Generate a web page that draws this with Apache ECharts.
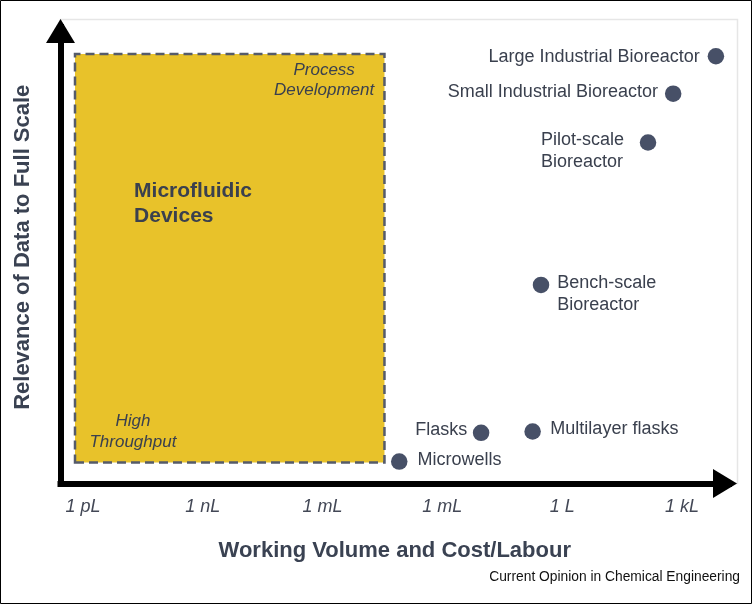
<!DOCTYPE html>
<html><head><meta charset="utf-8">
<script src="https://cdn.jsdelivr.net/npm/echarts@6/dist/echarts.min.js"></script>
<style>html,body{margin:0;padding:0;background:#fff}#c{width:753px;height:605px}</style>
</head><body><div id="c"></div>
<script>
// ---- data ----
const tickValues = [-12, -9, -6, -3, 0, 3];            // log10(volume in L)
const tickLabels = ['1 pL', '1 nL', '1 mL', '1 mL', '1 L', '1 kL'];
const pointNames = ['Large Industrial Bioreactor', 'Small Industrial Bioreactor', 'Pilot-scale\nBioreactor',
  'Bench-scale\nBioreactor', 'Flasks', 'Multilayer flasks', 'Microwells'];
const pointVolume = [3.85, 2.78, 2.15, -0.53, -2.03, -0.74, -4.08];
const pointRelevance = [93.6, 85.4, 74.7, 43.5, 11.1, 11.4, 4.8];
const regionVolume = [-12.2, -4.45];
const regionRelevance = [4.6, 94.1];
const noteTexts = ['Process\nDevelopment', 'High\nThroughput', 'Microfluidic\nDevices'];
const noteVolume = [-5.96, -10.75, -10.72];
const noteRelevance = [88.4, 11.3, 61.2];

// ---- styles ----
const FONT = "'Liberation Sans', Arial, Helvetica, sans-serif";
const TEXT = '#3a404e';
const pointLabelStyles = [
  { position: 'left', distance: 8, offset: [0, 1] },
  { position: 'left', distance: 7, offset: [0, -1.5] },
  { position: [-98.75, -5.25], align: 'left', verticalAlign: 'top' },
  { position: [24.5, -5.1], align: 'left', verticalAlign: 'top' },
  { position: 'left', distance: 5.5, offset: [0, -2.5] },
  { position: 'right', distance: 9.5, offset: [0, -2] },
  { position: 'right', distance: 10, offset: [0, -1.5] }
];
const noteStyles = [
  { align: 'center', fontStyle: 'italic', fontSize: 17, lineHeight: 20, fontWeight: 'normal' },
  { align: 'center', fontStyle: 'italic', fontSize: 17, lineHeight: 20.5, fontWeight: 'normal' },
  { align: 'left', fontStyle: 'normal', fontSize: 21, lineHeight: 25, fontWeight: 'bold' }
];

const chart = echarts.init(document.getElementById('c'), null, { renderer: 'canvas' });
const axisLineStyle = { color: '#000', width: 6, cap: 'square' };

chart.setOption({
  animation: false,
  backgroundColor: '#fff',
  title: {
    text: 'Current Opinion in Chemical Engineering',
    right: 13, top: 570, padding: 0,
    textStyle: { fontFamily: FONT, fontSize: 13.8, fontWeight: 'normal', color: '#111' }
  },
  graphic: [
    { type: 'rect', shape: { x: 0.5, y: 0.5, width: 751, height: 603 }, style: { fill: 'none', stroke: '#000', lineWidth: 1 }, z: 0, silent: true },
    { type: 'rect', shape: { x: 60.5, y: 19.5, width: 677, height: 464 }, style: { fill: 'none', stroke: '#e6e6e6', lineWidth: 1.5 }, z: -1, silent: true }
  ],
  grid: { left: 60.5, top: 27, right: 24, bottom: 121.5, outerBoundsMode: 'none', containLabel: false },
  xAxis: {
    type: 'value', min: -12.563, max: 4.178,
    name: 'Working Volume and Cost/Labour', nameLocation: 'middle', nameGap: 56,
    nameTextStyle: { fontFamily: FONT, fontSize: 22, fontWeight: 'bold', color: '#3a4252' },
    axisLine: { show: true, onZero: false, lineStyle: axisLineStyle, symbol: ['none', 'triangle'], symbolSize: [29, 24], symbolOffset: [0, -4] },
    axisTick: { show: false },
    splitLine: { show: false },
    axisLabel: {
      customValues: tickValues, margin: 14,
      formatter: v => tickLabels[tickValues.indexOf(v)] ?? '',
      fontFamily: FONT, fontSize: 18, fontStyle: 'italic', color: '#434856'
    }
  },
  yAxis: {
    type: 'value', min: 0, max: 100,
    name: 'Relevance of Data to Full Scale', nameLocation: 'middle', nameGap: 27,
    nameTextStyle: { fontFamily: FONT, fontSize: 22, fontWeight: 'bold', color: '#3a4252', padding: [0, 0, 0, 16] },
    axisLine: { show: true, onZero: false, lineStyle: axisLineStyle, symbol: ['none', 'triangle'], symbolSize: [29, 24], symbolOffset: [0, -4] },
    axisTick: { show: false },
    splitLine: { show: false },
    axisLabel: { show: false }
  },
  series: [
    {
      type: 'scatter', name: 'notes', silent: true, z: 1,
      symbolSize: 1, itemStyle: { color: 'transparent', opacity: 1 },
      emphasis: { disabled: true },
      markArea: {
        silent: true,
        itemStyle: { color: '#E8C22A', opacity: 1, borderColor: '#555b6a', borderWidth: 2.5, borderType: [9, 5] },
        label: { show: false },
        data: [[{ xAxis: regionVolume[0], yAxis: regionRelevance[0] }, { xAxis: regionVolume[1], yAxis: regionRelevance[1] }]]
      },
      data: noteTexts.map((t, i) => ({
        value: [noteVolume[i], noteRelevance[i]],
        label: Object.assign({ show: true, formatter: t, position: 'inside', verticalAlign: 'middle',
          fontFamily: FONT, color: TEXT, opacity: 1 }, noteStyles[i])
      }))
    },
    {
      type: 'scatter', name: 'scales', silent: true, z: 5, clip: false,
      symbol: 'circle', symbolSize: 16.5,
      itemStyle: { color: '#475067', opacity: 1 },
      emphasis: { disabled: true },
      label: { show: true, fontFamily: FONT, fontSize: 18, lineHeight: 22, color: TEXT, opacity: 1 },
      data: pointNames.map((n, i) => ({
        name: n, value: [pointVolume[i], pointRelevance[i]],
        label: Object.assign({ formatter: n }, pointLabelStyles[i])
      }))
    }
  ]
});
</script>
</body></html>
